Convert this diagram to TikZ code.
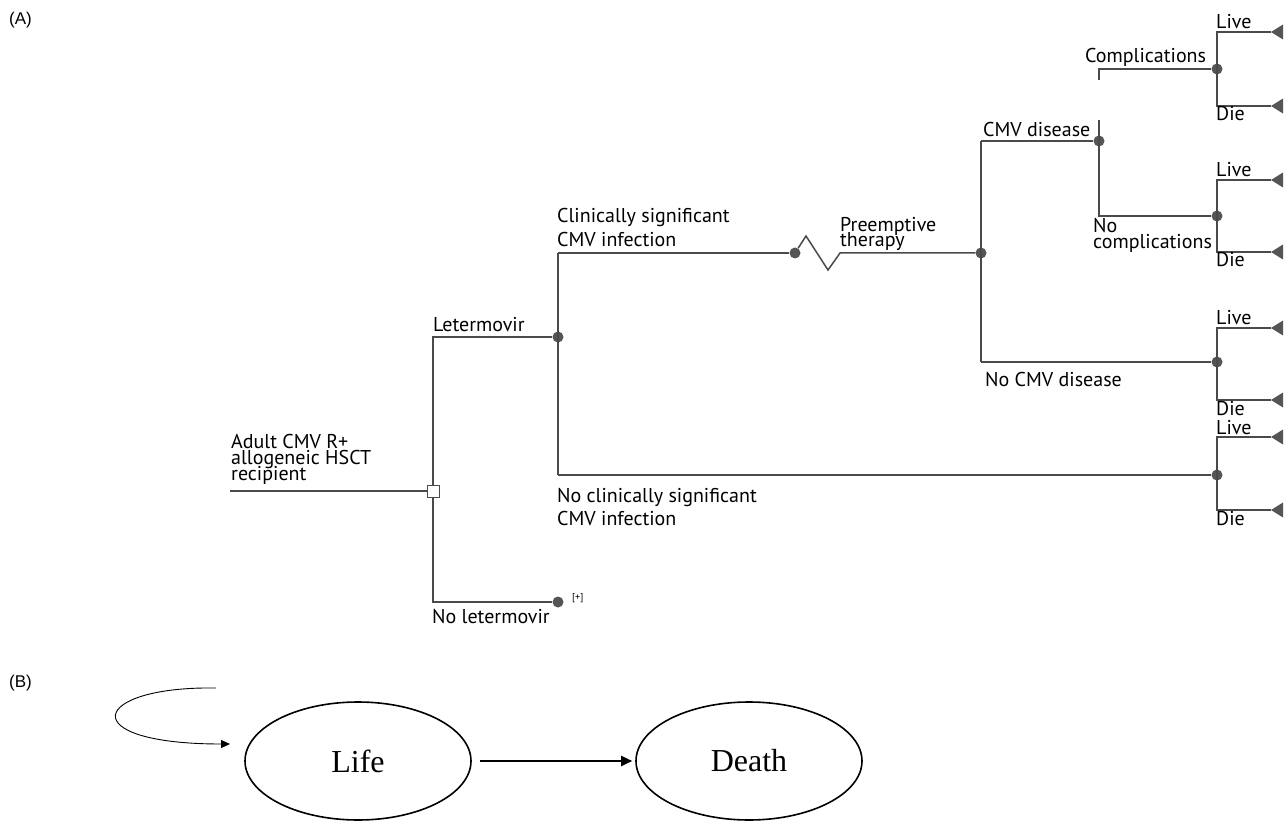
\documentclass[tikz,border=0pt]{standalone}
\usepackage{fontspec}
\setmainfont{Liberation Serif}
\newfontfamily\treefont{PT Sans}
\newfontfamily\plfont{Liberation Sans}
\usetikzlibrary{arrows.meta,shapes.geometric,calc}
\definecolor{lc}{HTML}{4A4A4A}
\definecolor{dc}{HTML}{555555}
\newcommand{\tfs}[1]{\treefont\fontsize{20}{#1}\selectfont\lineskiplimit=-30pt\relax}
\begin{document}
\begin{tikzpicture}[x=1pt,y=-1pt,
  br/.style={draw=lc, line width=1.5pt},
  chance/.style={circle, fill=dc, inner sep=0pt, minimum size=11pt},
  decision/.style={rectangle, draw=lc, fill=white, line width=1pt, inner sep=0pt, minimum size=12pt},
  tlbl/.style={font=\tfs{22}, inner sep=0pt, anchor=base west, text=black},
  mlbl/.style={tlbl, align=left},
  plbl/.style={font=\plfont\fontsize{17}{20}\selectfont, inner sep=0pt, anchor=base west},
  state/.style={ellipse, draw=black, line width=1.6pt, minimum width=226pt, minimum height=118pt, font=\fontsize{32}{36}\selectfont}
]
\useasboundingbox (0,0) rectangle (1288,826);
\node[plbl] (pa) at (9,25) {(A)};
\node[plbl] (pb) at (9,687) {(B)};

% ---------- tree ----------
\coordinate (root) at (230,491);
\node[decision] (d) at (433,491) {};
\coordinate (letc) at (433,337);
\coordinate (nolc) at (433,602);
\node[chance] (c1) at (558,337) {};
\node[chance] (nol) at (558,602) {};
\coordinate (cs) at (558,253);
\coordinate (ncs) at (558,475);
\node[chance] (c2) at (795,253) {};
\node[chance] (c3) at (981,253) {};
\coordinate (dis) at (981,141);
\coordinate (ndis) at (981,362);
\node[chance] (c4) at (1099,141) {};
\coordinate (c4top) at (1099,120);
\coordinate (stub) at (1099,80);
\coordinate (compc) at (1099,69);
\coordinate (ncompc) at (1099,216);
\node[chance] (e1) at (1217,69) {};
\node[chance] (e2) at (1217,216) {};
\node[chance] (e3) at (1217,362) {};
\node[chance] (e4) at (1217,475) {};

\draw[br] (root) -- (d.west);
\draw[br] (d.north) -- (letc) -- (c1);
\draw[br] (d.south) -- (nolc) -- (nol);
\draw[br] (cs) -- (ncs);
\draw[br] (cs) -- (c2);
\draw[br] (ncs) -- (e4);
\draw[br] (c2) -- ++(11,-17) -- ++(22,34) -- ++(12,-17) -- (c3);
\draw[br] (dis) -- (ndis);
\draw[br] (dis) -- (c4);
\draw[br] (ndis) -- (e3);
\draw[br] (c4top) -- (ncompc) -- (e2);
\draw[br] (stub) -- (compc) -- (e1);

% terminal branches
\foreach \e/\up/\dn [count=\i] in {e1/32/106, e2/180/252, e3/328/400, e4/437/510}{
  \coordinate (l\i) at (1217,\up);
  \coordinate (dd\i) at (1217,\dn);
  \coordinate (lt\i) at (1271,\up);
  \coordinate (dt\i) at (1271,\dn);
  \draw[br] (lt\i) -- (l\i) -- (dd\i) -- (dt\i);
  \fill[dc] (lt\i) -- ++(12,-7.5) -- ++(0,15) -- cycle;
  \fill[dc] (dt\i) -- ++(12,-7.5) -- ++(0,15) -- cycle;
  \node[tlbl] (live\i) at (1216,\up-3) {Live};
  \node[tlbl] (die\i) at (1216,\dn+15) {Die};
}

% labels
\node[mlbl, font=\tfs{16}] (t1) at (231,480) {Adult CMV R+\\allogeneic HSCT\\recipient};
\node[tlbl] (t4) at (433,332) {Letermovir};
\node[tlbl] (t5) at (432,623) {No letermovir};
\node[font=\treefont\fontsize{10}{12}\selectfont, inner sep=0pt, anchor=base west] (t6) at (572,600) {[+]};
\node[mlbl, font=\tfs{24}] (t7) at (557,247) {Clinically significant\\CMV infection};
\node[mlbl, font=\tfs{23}] (t9) at (557,525) {No clinically significant\\CMV infection};
\node[mlbl, font=\tfs{15}] (t11) at (840,247) {Preemptive\\therapy};
\node[tlbl] (t13) at (983,137) {CMV disease};
\node[tlbl] (t14) at (985,386) {No CMV disease};
\node[tlbl] (t15) at (1085,63) {Complications};
\node[mlbl, font=\tfs{16}] (t16) at (1093,249) {No\\complications};

% ---------- Markov ----------
\node[state] (life) at (358,761) {Life};
\node[state] (death) at (749,761) {Death};
\draw[line width=2pt, shorten <=8pt, shorten >=3pt, -{Triangle[length=11pt,width=10pt]}] (life.east) -- (death.west);
\coordinate (ls) at (216,688);
\coordinate (le) at (230,744);
\draw[line width=0.9pt, -{Triangle[length=9pt,width=8pt]}] (ls) .. controls (90,686) and (72,744) .. (le);
\end{tikzpicture}
\end{document}
